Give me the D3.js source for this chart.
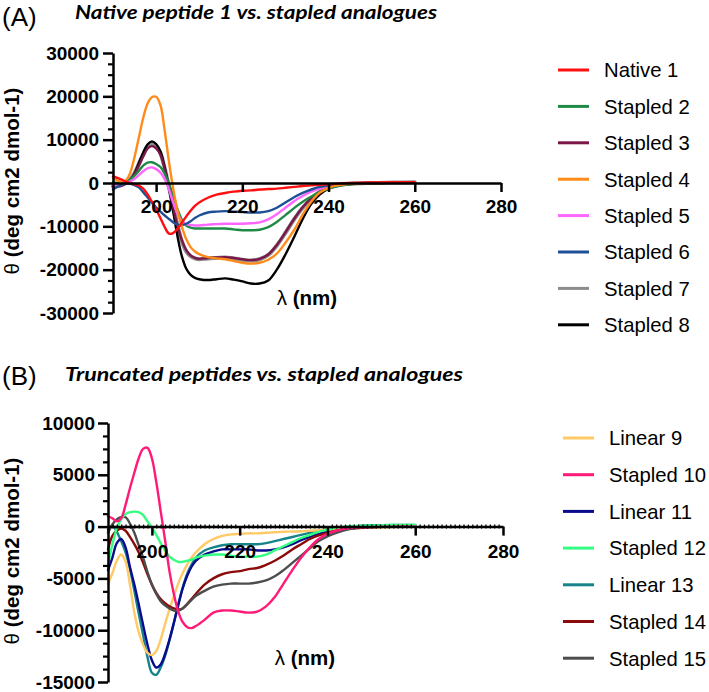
<!DOCTYPE html>
<html><head><meta charset="utf-8">
<script src="https://cdn.jsdelivr.net/npm/d3@7"></script>
<style>
body{margin:0;background:#fff;}
svg{display:block;}
text{font-family:"Liberation Sans",Arial,sans-serif;fill:#000;}
</style></head>
<body>
<svg id="chart" width="709" height="692"></svg>
<script>
// ---------- Panel A data ----------
const wlA = [190,191,192,193,194,195,196,197,198,199,200,201,202,203,204,205,206,207,208,209,210,212,214,216,218,220,222,224,226,228,230,232,234,236,238,240,242,245,250,255,260];
const native1   = [1500,1200,800,300,0,-300,-600,-1300,-2600,-4300,-6100,-8100,-10200,-11700,-11500,-10500,-9100,-7700,-6400,-5300,-4500,-3400,-2700,-2300,-2000,-1800,-1700,-1500,-1400,-1300,-1100,-900,-700,-550,-400,-300,-150,0,150,200,200];
const stapled2  = [200,0,-100,200,800,1700,2800,4000,4700,4800,4400,3700,2100,-200,-3200,-6200,-8500,-9800,-10300,-10500,-10500,-10500,-10500,-10500,-10700,-10900,-10900,-10800,-10200,-9000,-7400,-5800,-4300,-3100,-2100,-1300,-750,-300,0,100,200];
const stapled3  = [-900,-800,-600,-100,700,2000,4000,6100,7900,8500,8000,6500,3200,-1200,-5800,-10000,-13300,-15500,-16700,-17300,-17500,-17300,-17200,-17100,-17300,-17600,-17800,-17500,-16500,-14300,-11400,-8300,-5600,-3500,-2000,-1100,-550,-200,0,100,200];
const stapled4  = [1200,600,200,600,2400,6000,10500,15000,18300,19800,19900,18000,12000,4800,-1500,-6500,-10200,-13000,-14800,-15800,-16400,-17100,-17400,-17600,-18000,-18400,-18600,-18400,-17700,-16300,-13800,-10900,-7300,-4300,-2200,-1100,-550,-200,0,100,200];
const stapled5  = [-600,-500,-300,0,400,1000,1800,2700,3400,3600,3200,2400,900,-1600,-4600,-7200,-8800,-9500,-9700,-9800,-9800,-9600,-9500,-9400,-9400,-9400,-9300,-9100,-8400,-7200,-5700,-4200,-3000,-2000,-1300,-800,-450,-150,50,100,200];
const stapled6  = [-1500,-900,-400,-100,-200,-500,-1000,-2100,-3300,-4500,-5600,-6600,-7500,-8300,-9100,-9600,-9700,-9400,-8800,-8100,-7500,-6800,-6600,-6500,-6600,-6700,-6800,-6800,-6500,-5700,-4500,-3300,-2300,-1500,-900,-550,-300,-100,50,150,200];
const stapled7  = [-800,-700,-500,0,900,2300,4400,6600,8400,9100,8600,6900,3400,-1000,-5600,-9900,-13500,-15800,-16900,-17400,-17600,-17400,-17300,-17200,-17400,-17700,-17900,-17600,-16600,-14400,-11500,-8400,-5700,-3600,-2000,-1100,-550,-200,0,100,200];
const stapled8  = [-500,-500,-400,0,700,2200,4600,7000,8900,9600,9000,7300,3500,-1200,-6800,-12500,-17000,-19800,-21200,-21900,-22200,-22400,-22200,-22000,-22300,-22700,-23200,-23200,-22500,-20000,-16500,-12500,-8300,-4800,-2600,-1300,-650,-250,0,100,200];
const namesA  = ["Native 1","Stapled 2","Stapled 3","Stapled 4","Stapled 5","Stapled 6","Stapled 7","Stapled 8"];
const colorsA = ["#ff1010","#1f8a45","#7b1748","#ff8c1a","#ff66ff","#1f4f96","#8c8c8c","#000000"];
const seriesA = [native1,stapled2,stapled3,stapled4,stapled5,stapled6,stapled7,stapled8];
const drawOrderA = [6,7,2,1,4,5,3,0];
const yTicksA = [-30000,-20000,-10000,0,10000,20000,30000];
const xTicks = [200,220,240,260,280];

// ---------- Panel B data ----------
const wlB = [190,191,192,193,194,195,196,197,198,199,200,201,202,203,204,205,206,207,208,209,210,212,214,216,218,220,222,224,226,228,230,232,234,236,238,240,242,245,250,255,260];
const linear9   = [-5500,-4500,-3300,-2700,-3400,-5600,-8300,-10200,-11400,-12200,-12400,-12000,-10900,-9400,-8000,-6700,-5500,-4500,-3700,-3000,-2500,-1700,-1200,-900,-750,-700,-650,-650,-600,-550,-500,-480,-450,-400,-350,-300,-250,-200,-100,-50,0];
const stapled10 = [1000,800,500,800,2100,3700,5200,6600,7500,7600,6600,4300,1500,-1300,-4300,-6500,-8200,-9200,-9700,-9800,-9600,-9000,-8300,-8100,-8100,-8200,-8300,-8200,-7700,-6800,-5500,-4200,-3000,-2000,-1200,-700,-400,-150,-50,0,0];
const linear11  = [-4200,-3000,-1600,-1200,-2000,-3900,-5600,-7500,-9500,-11400,-12900,-13600,-13300,-12300,-10900,-9300,-7600,-6000,-4800,-3900,-3300,-2700,-2400,-2200,-2200,-2200,-2200,-2300,-2300,-2200,-2000,-1700,-1300,-1000,-700,-450,-250,-50,100,100,100];
const stapled12 = [-3700,-1700,-200,700,1200,1400,1450,1400,1100,500,-100,-800,-1600,-2300,-2900,-3200,-3400,-3400,-3300,-3200,-3000,-2800,-2700,-2700,-2800,-2900,-2900,-2900,-2700,-2300,-1900,-1500,-1100,-800,-500,-300,-100,50,100,150,150];
const linear13  = [-300,100,-500,-1400,-2500,-4100,-6200,-8400,-10500,-12600,-14100,-14300,-13600,-12500,-11000,-9300,-7500,-5900,-4600,-3700,-3000,-2300,-2000,-1800,-1700,-1700,-1700,-1700,-1600,-1400,-1200,-1000,-800,-600,-400,-250,-150,0,100,150,150];
const stapled14 = [-2200,-900,-400,-200,-400,-1000,-1700,-2500,-3500,-4600,-5600,-6400,-7000,-7400,-7700,-7900,-8000,-7900,-7500,-7000,-6500,-5600,-5000,-4600,-4400,-4300,-4100,-4000,-3700,-3300,-2800,-2200,-1700,-1200,-850,-600,-400,-200,-50,0,0];
const stapled15 = [-600,200,700,900,900,300,-600,-1800,-3000,-4400,-5600,-6500,-7200,-7600,-7900,-8100,-8100,-7900,-7500,-7100,-6700,-6200,-5800,-5600,-5500,-5500,-5500,-5400,-5200,-4800,-4200,-3500,-2800,-2100,-1400,-950,-600,-250,-50,0,0];
const namesB  = ["Linear 9","Stapled 10","Linear 11","Stapled 12","Linear 13","Stapled 14","Stapled 15"];
const colorsB = ["#ffc966","#ff1a78","#0a0a8c","#33ff80","#16848a","#8b0a0a","#4d4d4d"];
const seriesB = [linear9,stapled10,linear11,stapled12,linear13,stapled14,stapled15];
const drawOrderB = [4,2,0,5,6,3,1];
const yTicksB = [-15000,-10000,-5000,0,5000,10000];

const svg = d3.select("#chart");
const fmt = d => String(d);

function panel(cfg){
  const g = svg.append("g");
  const x = d3.scaleLinear().domain([190,280]).range(cfg.xr);
  const y = d3.scaleLinear().domain(cfg.yd).range(cfg.yr);
  const line = d3.line().x(d=>x(d[0])).y(d=>y(d[1])).curve(d3.curveCatmullRom.alpha(0.5));

  // curves
  cfg.order.forEach(i=>{
    const pts = cfg.wl.map((w,k)=>[w,cfg.series[i][k]]);
    g.append("path").attr("d",line(pts)).attr("fill","none")
      .attr("stroke",cfg.colors[i]).attr("stroke-width",cfg.widths?cfg.widths[i]:2.4)
      .attr("stroke-linejoin","round").attr("stroke-linecap","round");
  });

  // y minor ticks
  const yMinor = d3.range(cfg.yd[0], cfg.yd[1]+1, cfg.yMinorStep).filter(v=>!cfg.yTicks.includes(v));
  g.append("g").attr("transform",`translate(${cfg.xr[0]},0)`)
    .call(d3.axisLeft(y).tickValues(yMinor).tickSize(5).tickFormat("").tickSizeOuter(0))
    .call(s=>{s.select(".domain").remove(); s.selectAll("line").attr("stroke-width",2.2);});
  // y axis
  g.append("g").attr("transform",`translate(${cfg.xr[0]},0)`)
    .call(d3.axisLeft(y).tickValues(cfg.yTicks).tickSize(10).tickPadding(cfg.yPad).tickFormat(fmt).tickSizeOuter(0))
    .call(s=>{
      s.select(".domain").attr("stroke-width",2.5);
      s.selectAll("line").attr("stroke-width",2.5);
      s.selectAll("text").attr("font-size",19).attr("font-weight","bold").attr("font-family","Liberation Sans, Arial, sans-serif");
    });
  // x minor (panel B)
  if(cfg.xMinor){
    const xm = d3.range(191,280,1).filter(v=>!xTicks.includes(v));
    g.append("g").attr("transform",`translate(0,${y(0)-2})`)
      .call(d3.axisBottom(x).tickValues(xm).tickSize(4).tickFormat("").tickSizeOuter(0))
      .call(s=>{s.select(".domain").remove(); s.selectAll("line").attr("stroke-width",1.3);});
  }
  // x axis
  g.append("g").attr("transform",`translate(0,${y(0)})`)
    .call(d3.axisBottom(x).tickValues(xTicks).tickSize(9).tickPadding(cfg.xPad).tickFormat(fmt).tickSizeOuter(0))
    .call(s=>{
      s.select(".domain").attr("stroke-width",2.5);
      s.selectAll("line").attr("stroke-width",2.5);
      s.selectAll("text").attr("font-size",19).attr("font-weight","bold").attr("font-family","Liberation Sans, Arial, sans-serif");
    });

  // y title
  const yt = g.append("text").attr("transform",`translate(${cfg.ytX},${cfg.ytY}) rotate(-90)`)
    .attr("text-anchor","middle").attr("font-size",20.5);
  yt.append("tspan").text("θ ");
  yt.append("tspan").attr("font-weight","bold").text("(deg cm2 dmol-1)");
  // x title
  const xt = g.append("text").attr("x",cfg.xtX).attr("y",cfg.xtY).attr("text-anchor","middle").attr("font-size",20.5);
  xt.append("tspan").text("λ ");
  xt.append("tspan").attr("font-weight","bold").text("(nm)");

  // panel label + title
  g.append("text").attr("x",2).attr("y",cfg.lblY).attr("font-size",26).text(cfg.label);
  g.append("text").attr("x",cfg.tX).attr("y",cfg.tY).attr("font-size",19.5)
    .attr("font-weight","bold").attr("font-style","italic")
    .style("font-family","Lato, 'Open Sans', sans-serif")
    .attr("textLength",cfg.tLen).attr("lengthAdjust","spacingAndGlyphs").text(cfg.title);

  // legend
  cfg.names.forEach((n,i)=>{
    const ly = cfg.legY0 + i*cfg.legStep;
    g.append("line").attr("x1",cfg.legX).attr("x2",cfg.legX+31).attr("y1",ly).attr("y2",ly)
      .attr("stroke",cfg.colors[i]).attr("stroke-width",3);
    g.append("text").attr("x",cfg.legX+46).attr("y",ly).attr("dy","0.36em").attr("font-size",20.3).text(n);
  });
}

panel({wl:wlA, series:seriesA, colors:colorsA, names:namesA, order:drawOrderA,
  widths:[2.4,2.4,2.4,2.4,2.4,2.4,4,2.4],
  xr:[113,501], yd:[-30000,30000], yr:[313,53], yTicks:yTicksA, yMinorStep:2500,
  yPad:4, xPad:8, ytX:19, ytY:181, xtX:307, xtY:305,
  label:"(A)", lblY:26, title:"Native peptide 1 vs. stapled analogues", tX:75, tY:19, tLen:362,
  legX:558, legY0:70, legStep:36.4});

panel({wl:wlB, series:seriesB, colors:colorsB, names:namesB, order:drawOrderB,
  xr:[108,503], yd:[-15000,10000], yr:[682,423], yTicks:yTicksB, yMinorStep:1250,
  yPad:3, xPad:9, xMinor:true, ytX:19, ytY:551, xtX:305, xtY:665,
  label:"(B)", lblY:385, title:"Truncated peptides vs. stapled analogues", tX:65, tY:381, tLen:398,
  legX:563, legY0:438, legStep:36.7});
</script>
</body></html>
